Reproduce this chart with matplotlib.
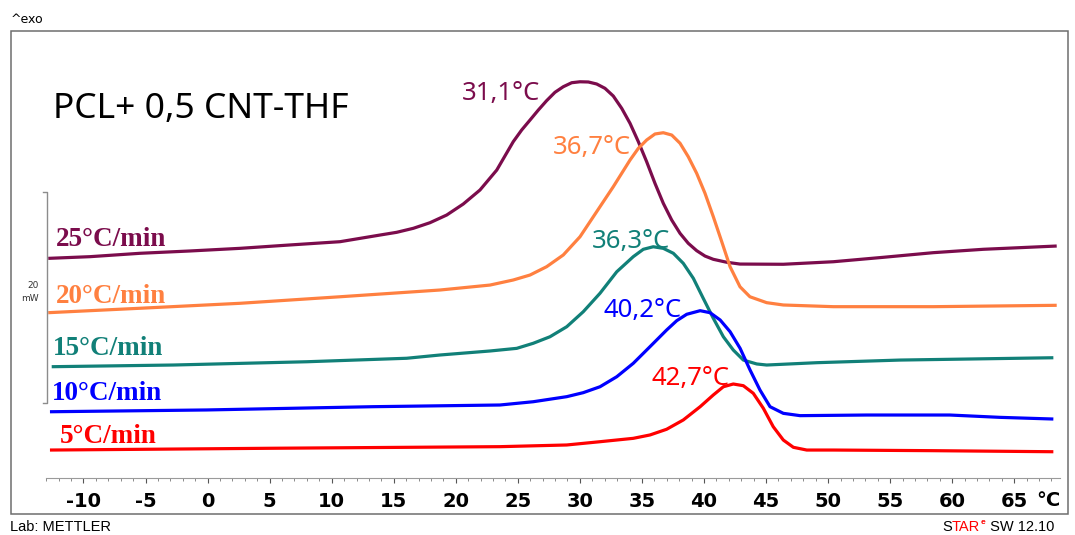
import matplotlib
matplotlib.use("Agg")
import matplotlib.pyplot as plt
from matplotlib.patches import Rectangle

plt.rcParams['axes.unicode_minus'] = False

# ---------------- data (temperature in °C, heat flow in mW, arbitrary offset) ----------------
rates = ["25°C/min", "20°C/min", "15°C/min", "10°C/min", "5°C/min"]
colors = ["#7B0C4C", "#FF8040", "#118078", "#0000FF", "#FF0000"]
peak_labels = ["31,1°C", "36,7°C", "36,3°C", "40,2°C", "42,7°C"]

T25 = [-12.84, -9.48, -5.45, -1.42, 2.61, 6.64, 10.67, 13.89, 15.24, 16.58, 17.92, 19.27, 20.60,
       21.95, 23.30, 24.63, 25.31, 25.98, 26.65, 27.32, 27.99, 28.66, 29.34, 30.01, 30.68, 31.35,
       32.02, 32.69, 33.37, 34.04, 34.71, 35.38, 36.05, 36.72, 37.40, 38.07, 38.73, 39.41, 40.08,
       40.75, 41.83, 42.90, 46.39, 50.42, 54.45, 58.48, 62.51, 68.42]
H25 = [20.82, 20.98, 21.30, 21.52, 21.77, 22.09, 22.40, 23.03, 23.29, 23.67, 24.20, 24.93, 25.97,
       27.30, 29.19, 31.88, 32.99, 33.93, 34.88, 35.77, 36.56, 37.09, 37.47, 37.56, 37.54, 37.35,
       36.94, 36.21, 35.04, 33.62, 31.88, 29.98, 27.93, 26.04, 24.45, 23.19, 22.25, 21.55, 21.04,
       20.73, 20.45, 20.28, 20.26, 20.50, 20.92, 21.36, 21.68, 21.99]

T20 = [-12.84, -5.45, 2.61, 10.67, 18.73, 22.76, 24.63, 25.98, 27.32, 28.66, 30.01, 31.35, 32.69,
       34.04, 34.71, 35.38, 36.05, 36.72, 37.40, 38.07, 38.73, 39.41, 40.08, 40.75, 41.43, 42.10,
       42.90, 43.70, 45.05, 46.39, 50.42, 58.48, 68.42]
H20 = [15.67, 16.09, 16.56, 17.18, 17.82, 18.29, 18.77, 19.24, 20.03, 21.14, 22.87, 25.24, 27.61,
       30.14, 31.25, 32.04, 32.61, 32.73, 32.51, 31.73, 30.46, 28.88, 26.99, 24.77, 22.40, 20.03,
       18.13, 17.18, 16.62, 16.40, 16.24, 16.24, 16.37]

T15 = [-12.56, -2.76, 7.99, 16.04, 18.73, 22.76, 24.91, 26.24, 27.59, 28.94, 30.27, 31.62, 32.97,
       34.30, 35.11, 35.91, 36.72, 37.53, 38.33, 39.14, 39.94, 40.75, 41.56, 42.36, 43.17, 44.25,
       45.05, 49.08, 55.80, 68.15]
H15 = [10.55, 10.71, 11.02, 11.35, 11.66, 12.04, 12.29, 12.77, 13.39, 14.34, 15.76, 17.51, 19.55,
       20.98, 21.68, 21.92, 21.77, 21.30, 20.35, 18.93, 17.03, 15.14, 13.39, 12.13, 11.18, 10.81,
       10.71, 10.93, 11.18, 11.40]

T10 = [-12.70, -0.07, 13.35, 23.56, 26.24, 28.94, 30.27, 31.62, 32.97, 34.30, 35.65, 36.99, 37.80,
       38.61, 39.69, 40.49, 41.30, 42.10, 42.91, 43.71, 44.51, 45.32, 46.39, 47.74, 53.11, 59.80,
       63.83, 68.15]
H10 = [6.28, 6.45, 6.76, 6.92, 7.23, 7.71, 8.09, 8.65, 9.60, 10.87, 12.45, 14.03, 14.91,
       15.52, 15.86, 15.67, 14.98, 13.87, 12.29, 10.24, 8.34, 6.76, 6.13, 5.91, 5.97, 5.97,
       5.75, 5.59]

T5 = [-12.70, 5.29, 23.56, 28.94, 31.62, 34.30, 35.65, 36.99, 38.33, 39.69, 40.75, 41.56, 42.36,
      43.17, 43.97, 44.78, 45.58, 46.39, 47.20, 48.28, 50.42, 58.48, 68.15]
H5 = [2.65, 2.82, 2.97, 3.13, 3.44, 3.76, 4.08, 4.62, 5.50, 6.76, 7.87, 8.65, 8.91,
      8.75, 8.03, 6.61, 4.86, 3.60, 2.91, 2.65, 2.65, 2.59, 2.49]

series_T = [T25, T20, T15, T10, T5]
series_H = [H25, H20, H15, H10, H5]

x_major = list(range(-10, 70, 5))
x_minor = list(range(-13, 69, 1))
scale_bar_mW = 20

# ---------------- layout helpers ----------------
W, H = 1075, 535
def fx(px):
    return px / W
def fy(py):
    return 1 - py / H

fig = plt.figure(figsize=(W / 100, H / 100), dpi=100)
fig.patch.set_facecolor("white")

# outer frame
fig.add_artist(Rectangle((fx(10.5), fy(514)), fx(1068) - fx(10.5), fy(30.5) - fy(514),
                         transform=fig.transFigure, fill=False, edgecolor="#6e6e6e", lw=1.1))

ax = fig.add_axes([fx(10.5), fy(478), fx(1068) - fx(10.5), fy(30.5) - fy(478)])
ax.set_facecolor("none")
ax.set_xlim(-15.88, 69.33)
ax.set_ylim(0, 42.42)

for T, Hf, c in zip(series_T, series_H, colors):
    ax.plot(T, Hf, color=c, lw=2.3, solid_capstyle="butt", solid_joinstyle="round")

# scale bar (20 mW)
xb = -12.94
y0 = 7.1
ax.plot([xb - 0.33, xb, xb, xb - 0.33], [y0 + scale_bar_mW, y0 + scale_bar_mW, y0, y0],
        color="#8c8c8c", lw=1.0)

for s in ["left", "right", "top"]:
    ax.spines[s].set_visible(False)
ax.spines["bottom"].set_bounds(-13.0, 68.7)
ax.spines["bottom"].set_color("#9a9a9a")
ax.spines["bottom"].set_linewidth(0.8)
ax.set_yticks([])
ax.set_xticks(x_major)
ax.set_xticks(x_minor, minor=True)
ax.set_xticklabels([str(v) for v in x_major])
ax.tick_params(axis="x", which="major", direction="out", length=3.5, width=0.8,
               color="#555555", pad=6.5, labelsize=14)
ax.tick_params(axis="x", which="minor", direction="out", length=2, width=0.6, color="#777777")
for lab in ax.get_xticklabels():
    lab.set_fontweight("bold")
    lab.set_family("DejaVu Sans")

# unit after last tick label
fig.text(fx(1036), fy(506), "°C", fontsize=14, fontweight="bold", family="DejaVu Sans",
         ha="left", va="baseline")

# texts
fig.text(fx(11), fy(23), "^exo", fontsize=9, family="DejaVu Sans", ha="left", va="baseline")
fig.text(fx(53), fy(118), "PCL+ 0,5 CNT-THF", fontsize=25.5, family="Noto Sans",
         ha="left", va="baseline")

rate_pos = [(56, 246), (56, 303), (53, 355), (52, 400), (60, 443)]
for (px, py), txt, c in zip(rate_pos, rates, colors):
    fig.text(fx(px), fy(py), txt, fontsize=19.5, family="Liberation Serif", fontweight="bold",
             color=c, ha="left", va="baseline")

peak_pos = [(462, 100), (553, 154), (592, 248), (604, 317), (651, 385)]
for (px, py), txt, c in zip(peak_pos, peak_labels, colors):
    fig.text(fx(px), fy(py), txt, fontsize=18.5, family="Noto Sans", color=c,
             ha="left", va="baseline")

fig.text(fx(39), fy(288), "20", fontsize=6.5, family="DejaVu Sans", ha="right", va="baseline",
         color="#333333")
fig.text(fx(39), fy(301), "mW", fontsize=6.5, family="DejaVu Sans", ha="right", va="baseline",
         color="#333333")

# footer
fig.text(fx(10), fy(531), "Lab: METTLER", fontsize=10.5, family="Liberation Sans",
         ha="left", va="baseline")
t1 = fig.text(fx(942), fy(531), "S", fontsize=10.5, family="Liberation Sans",
              ha="left", va="baseline")
t2 = fig.text(0, 0, "TAR", fontsize=10.5, family="Liberation Sans", color="#FF0000",
              ha="left", va="baseline")
t3 = fig.text(0, 0, "e", fontsize=6, family="Liberation Sans", fontweight="bold",
              color="#FF0000", ha="left", va="baseline")
t4 = fig.text(0, 0, " SW 12.10", fontsize=10.5, family="Liberation Sans",
              ha="left", va="baseline")
fig.canvas.draw()
r = fig.canvas.get_renderer()
def right_of(t):
    bb = t.get_window_extent(r)
    return bb.x1 / fig.bbox.width
t2.set_position((right_of(t1), fy(531)))
fig.canvas.draw()
t3.set_position((right_of(t2) + 0.0008, fy(524)))
fig.canvas.draw()
t4.set_position((right_of(t3), fy(531)))

fig.savefig("out.png", dpi=100, facecolor="white")
